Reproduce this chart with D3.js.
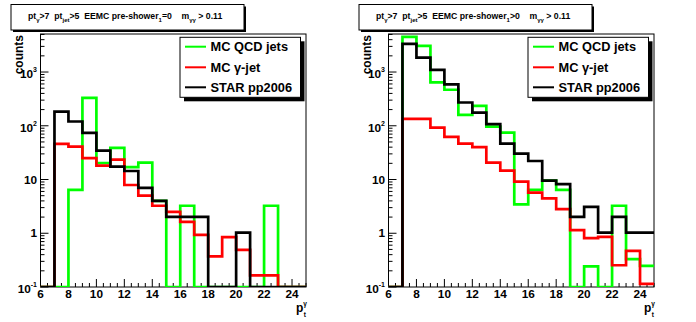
<!DOCTYPE html>
<html><head><meta charset="utf-8">
<script src="https://cdn.jsdelivr.net/npm/d3@7"></script>
<style>
body{margin:0;background:#fff;}
svg{display:block;font-family:"Liberation Sans",Arial,sans-serif;font-weight:bold;}
text{white-space:pre;}
</style></head><body>
<svg id="c" width="696" height="322"></svg>
<script>
// bin lower edges (width 1)
const binEdges = [6,7,8,9,10,11,12,13,14,15,16,17,18,19,20,21,22,23,24,25];
const xTickLabels = ["6","8","10","12","14","16","18","20","22","24"];
const yTickLabels = [{b:"10",e:"-1"},{b:"1",e:""},{b:"10",e:""},{b:"10",e:"2"},{b:"10",e:"3"}];
const yTickValues = [0.1,1,10,100,1000];
const seriesNames = ["MC QCD jets","MC \u03b3-jet","STAR pp2006"];
const seriesColors = ["#00ff00","#ff0000","#000000"];

// left panel: pre-shower_1 = 0
const leftQCD  = [0,0,6.4,331,20.3,38.7,17,20.6,4.0,0,3.25,0,0,0,0,0,3.25,0,0];
const leftGJ   = [0,46,41,24.9,18.1,23.4,7.9,5.0,3.25,2.5,1.63,0.93,0.37,0.85,0.49,0.165,0.165,0,0];
const leftSTAR = [0,184,120,74,34.5,17.3,14.4,7.0,4.0,2.02,2.02,2.02,0,0,1.03,0,0,0,0];
// right panel: pre-shower_1 > 0
const rightQCD  = [0,4500,3055,640,468,160,235,96.6,74.7,3.45,6.4,9.5,6.4,0,0.243,0,3.25,0.33,0.247];
const rightGJ   = [0,134,134,92.5,62,46.6,39.9,20.6,14.6,9.1,5.7,4.46,2.82,1.14,0.81,0.86,0.254,0.47,0.114];
const rightSTAR = [0,3330,1850,1100,587,271,176,107,46.6,30.3,22.1,9.5,8.2,2.02,3.1,1.03,2.02,1.03,1.03];

const panels = [
  {x0:40.5, x1:306, cond:"=0", data:[leftQCD,leftGJ,leftSTAR], titleX:11},
  {x0:388.5, x1:654, cond:">0", data:[rightQCD,rightGJ,rightSTAR], titleX:359}
];
const yTop = 34, yBot = 287;
const yMin = 0.1, yMax = 5100;
const svg = d3.select("#c");

panels.forEach((p,pi)=>{
  const g = svg.append("g");
  const x = d3.scaleLinear().domain([6,25]).range([p.x0,p.x1]);
  const y = d3.scaleLog().domain([yMin,yMax]).range([yBot,yTop]);
  const clipId = "clip"+pi;
  svg.append("clipPath").attr("id",clipId).append("rect")
    .attr("x",p.x0).attr("y",yTop).attr("width",p.x1-p.x0).attr("height",yBot-yTop);

  // title box
  const tb = {x:p.titleX, y:4.5, w:233, h:25.5};
  g.append("rect").attr("x",tb.x+2).attr("y",tb.y+2).attr("width",tb.w).attr("height",tb.h).attr("fill","#000");
  g.append("rect").attr("x",tb.x).attr("y",tb.y).attr("width",tb.w).attr("height",tb.h).attr("fill","#fff").attr("stroke","#000").attr("stroke-width",1);
  const tt = g.append("text").attr("x",tb.x+17).attr("y",18.5).attr("font-size",8.7);
  const parts = [["pt",0],["\u03b3",1],[">7  pt",0],["jet",1],[">5  EEMC pre-shower",0],["1",1],[p.cond+"    m",0],["\u03b3\u03b3",1],[" > 0.11",0]];
  let prev = 0;
  parts.forEach(([s,sub])=>{
    const off = sub?3.2:0;
    tt.append("tspan").attr("font-size",sub?6:8.7).attr("dy",off-prev).text(s);
    prev = off;
  });

  // frame
  g.append("rect").attr("x",p.x0).attr("y",yTop).attr("width",p.x1-p.x0).attr("height",yBot-yTop)
    .attr("fill","none").attr("stroke","#000").attr("stroke-width",1);

  // x ticks
  const xt = d3.range(6,25.01,0.5);
  g.selectAll(".xt").data(xt).enter().append("line")
    .attr("x1",d=>x(d)).attr("x2",d=>x(d))
    .attr("y1",yBot).attr("y2",d=>yBot-((d-6)%2===0?8:4))
    .attr("stroke","#000").attr("stroke-width",1);
  g.selectAll(".xl").data(xTickLabels).enter().append("text")
    .attr("x",d=>x(+d)).attr("y",297.7).attr("text-anchor","middle").attr("font-size",11.8).text(d=>d);

  // y ticks
  const yt = [];
  [0.1,1,10,100,1000].forEach(dec=>{for(let k=1;k<=9;k++){const v=dec*k; if(v<=yMax) yt.push({v, major:k===1});}});
  g.selectAll(".yt").data(yt).enter().append("line")
    .attr("x1",p.x0).attr("x2",d=>p.x0+(d.major?8:4))
    .attr("y1",d=>y(d.v)).attr("y2",d=>y(d.v))
    .attr("stroke","#000").attr("stroke-width",1);
  yTickLabels.forEach((l,i)=>{
    const yy = y(yTickValues[i]);
    const t = g.append("text").attr("x",p.x0-3.5).attr("text-anchor","end").attr("font-size",11.8);
    if(l.e){
      t.attr("y",yy+6);
      t.append("tspan").text(l.b);
      t.append("tspan").attr("font-size",7).attr("dy",-6).text(l.e);
    } else {
      t.attr("y",yy+4).text(l.b);
    }
  });

  // axis titles
  g.append("text").attr("transform",`translate(${p.x0-17.5},35) rotate(-90)`).attr("text-anchor","end")
    .attr("font-size",12).text("counts");
  const xtl = g.append("text").attr("x",p.x1-10).attr("y",311.5).attr("font-size",12);
  xtl.append("tspan").text("p");
  xtl.append("tspan").attr("font-size",6.5).attr("dy",-5.5).text("\u03b3");
  xtl.append("tspan").attr("font-size",6.5).attr("dx",-3.3).attr("dy",10.5).text("t");

  // histograms
  const line = d3.line().curve(d3.curveStepAfter).x(d=>x(d[0])).y(d=>y(Math.max(d[1],yMin)));
  p.data.forEach((vals,si)=>{
    const pts = vals.map((v,i)=>[binEdges[i],v]);
    pts.push([binEdges[vals.length], vals[vals.length-1]]);
    g.append("path").attr("d",line(pts)).attr("fill","none")
      .attr("stroke",seriesColors[si]).attr("stroke-width",2.7)
      .attr("clip-path",`url(#${clipId})`);
  });

  // legend
  const lx = p.x0+139.5, ly = 37.3, lw = 120.5, lh = 60;
  g.append("rect").attr("x",lx+4).attr("y",ly+4).attr("width",lw).attr("height",lh).attr("fill","#000");
  g.append("rect").attr("x",lx).attr("y",ly).attr("width",lw).attr("height",lh).attr("fill","#fff").attr("stroke","#000").attr("stroke-width",1);
  const rows = [46.7,67.3,87.3];
  seriesNames.forEach((n,i)=>{
    g.append("line").attr("x1",lx+5).attr("x2",lx+26).attr("y1",rows[i]).attr("y2",rows[i])
      .attr("stroke",seriesColors[i]).attr("stroke-width",2);
    g.append("text").attr("x",lx+30.5).attr("y",rows[i]+4.6).attr("font-size",12.8).text(n);
  });
});
</script>
</body></html>
